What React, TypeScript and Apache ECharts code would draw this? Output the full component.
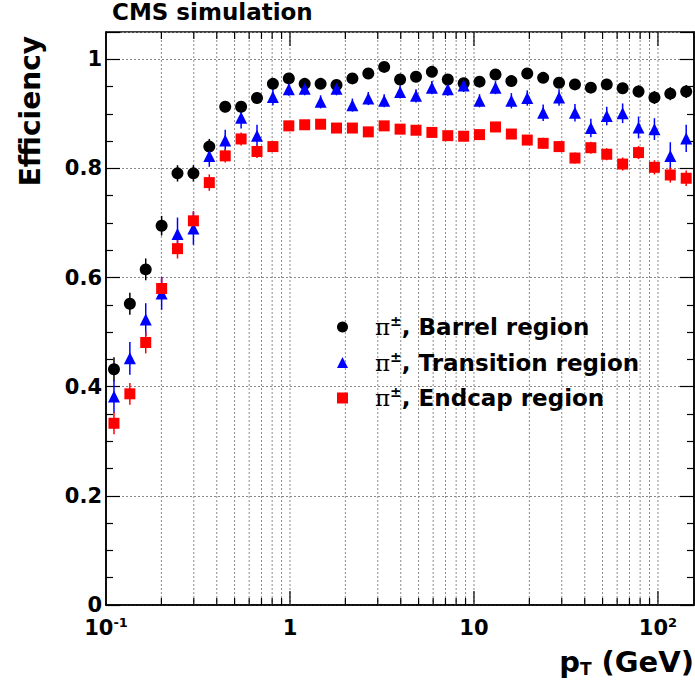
import React, { useEffect, useRef } from "react";
import * as echarts from "echarts";

// bin centres in pT (GeV)
const PT = [
  0.1105, 0.1348, 0.1644, 0.2006, 0.2447, 0.2986, 0.3643, 0.4446, 0.5424, 0.6618,
  0.8075, 0.9854, 1.202, 1.467, 1.79, 2.184, 2.665, 3.251, 3.967, 4.841,
  5.906, 7.206, 8.79, 10.72, 13.09, 15.97, 19.48, 23.77, 29.0, 35.39,
  43.18, 52.68, 64.27, 78.42, 95.68, 116.7, 142.4,
];

const BARREL = [
  0.432, 0.552, 0.615, 0.695, 0.791, 0.791, 0.84, 0.913, 0.913, 0.929,
  0.955, 0.965, 0.955, 0.955, 0.953, 0.965, 0.974, 0.986, 0.963, 0.968,
  0.977, 0.963, 0.956, 0.959, 0.972, 0.96, 0.974, 0.966, 0.957, 0.954,
  0.948, 0.954, 0.947, 0.941, 0.93, 0.937, 0.941,
];
const BARREL_ERR = [
  0.022, 0.02, 0.02, 0.018, 0.015, 0.015, 0.014, 0.01, 0.01, 0.01,
  0.008, 0.008, 0.007, 0.007, 0.007, 0.007, 0.007, 0.007, 0.007, 0.007,
  0.007, 0.007, 0.007, 0.007, 0.007, 0.008, 0.008, 0.008, 0.009, 0.009,
  0.01, 0.01, 0.01, 0.011, 0.012, 0.012, 0.012,
];

const TRANSITION = [
  0.382, 0.452, 0.523, 0.571, 0.68, 0.69, 0.823, 0.851, 0.893, 0.86,
  0.931, 0.945, 0.946, 0.922, 0.946, 0.916, 0.928, 0.924, 0.94, 0.933,
  0.948, 0.945, 0.952, 0.924, 0.948, 0.924, 0.929, 0.902, 0.93, 0.902,
  0.874, 0.896, 0.901, 0.875, 0.872, 0.823, 0.855,
];
const TRANSITION_ERR = [
  0.03, 0.03, 0.03, 0.03, 0.03, 0.03, 0.02, 0.02, 0.02, 0.02,
  0.015, 0.012, 0.012, 0.012, 0.012, 0.012, 0.012, 0.012, 0.012, 0.012,
  0.012, 0.012, 0.012, 0.012, 0.012, 0.014, 0.014, 0.015, 0.015, 0.016,
  0.017, 0.017, 0.018, 0.02, 0.02, 0.025, 0.025,
];

const ENDCAP = [
  0.333, 0.387, 0.481, 0.58, 0.653, 0.704, 0.774, 0.823, 0.854, 0.831,
  0.84, 0.878, 0.88, 0.881, 0.874, 0.874, 0.867, 0.878, 0.872, 0.87,
  0.866, 0.86, 0.859, 0.862, 0.876, 0.863, 0.852, 0.846, 0.84, 0.819,
  0.838, 0.826, 0.808, 0.829, 0.802, 0.788, 0.782,
];
const ENDCAP_ERR = [
  0.02, 0.02, 0.02, 0.02, 0.018, 0.018, 0.015, 0.012, 0.012, 0.012,
  0.01, 0.008, 0.008, 0.008, 0.008, 0.008, 0.008, 0.008, 0.008, 0.008,
  0.008, 0.008, 0.008, 0.008, 0.008, 0.009, 0.009, 0.01, 0.01, 0.01,
  0.011, 0.011, 0.012, 0.012, 0.013, 0.014, 0.014,
];

// vertical grid lines / ticks of the log axis
const X_GRID = [
  0.2, 0.3, 0.4, 0.5, 0.6, 0.7, 0.8, 0.9,
  1, 2, 3, 4, 5, 6, 7, 8, 9,
  10, 20, 30, 40, 50, 60, 70, 80, 90, 100,
];
const X_MAJOR = [1, 10, 100];
const X_LABELS: Record<string, string> = {
  "0.1": "{a|10}{s|-1}",
  "1": "{a|1}",
  "10": "{a|10}",
  "100": "{a|10}{s|2}",
};

const NAMES = ["π±, Barrel region", "π±, Transition region", "π±, Endcap region"];
const COLORS = ["#000000", "#0000ff", "#ff0000"];
const SYMBOLS = ["circle", "triangle", "rect"];

const FONT = "DejaVu Sans";

export default function App() {
  const ref = useRef<HTMLDivElement>(null);

  useEffect(() => {
    if (!ref.current) return;
    const chart = echarts.init(ref.current, null, { renderer: "svg" });

    const values = [BARREL, TRANSITION, ENDCAP];
    const errs = [BARREL_ERR, TRANSITION_ERR, ENDCAP_ERR];

    const errSeries = values.map((vals, s) => ({
      type: "custom",
      name: NAMES[s] + " err",
      silent: true,
      z: 2,
      encode: { x: 0, y: 1 },
      data: PT.map((x, i) => [x, vals[i], errs[s][i]]),
      renderItem: (_params: any, api: any) => {
        const x = api.value(0);
        const y = api.value(1);
        const e = api.value(2);
        const p1 = api.coord([x, y - e]);
        const p2 = api.coord([x, y + e]);
        return {
          type: "line",
          shape: { x1: p1[0], y1: p1[1], x2: p2[0], y2: p2[1] },
          style: { stroke: COLORS[s], lineWidth: 1.5 },
        };
      },
    }));

    const scatterSeries = values.map((vals, s) => ({
      type: "scatter",
      name: NAMES[s],
      z: 3,
      symbol: SYMBOLS[s],
      symbolSize: s === 2 ? 11 : 12,
      itemStyle: { color: COLORS[s], opacity: 1 },
      data: PT.map((x, i) => [x, vals[i]]),
    }));

    const gridSeries = {
      type: "custom",
      name: "xgrid",
      silent: true,
      z: 1,
      encode: { x: 0, y: 1 },
      data: X_GRID.map((v) => [v, 0.5]),
      renderItem: (params: any, api: any) => {
        const cs = params.coordSys;
        const v = api.value(0);
        const x = api.coord([v, 0.5])[0];
        const L = X_MAJOR.includes(v) ? 14 : 7;
        const top = cs.y;
        const bottom = cs.y + cs.height;
        return {
          type: "group",
          children: [
            {
              type: "line",
              shape: { x1: x, y1: top, x2: x, y2: bottom },
              style: { stroke: "#8a8a8a", lineWidth: 1, lineDash: [2, 2] },
            },
            {
              type: "line",
              shape: { x1: x, y1: bottom, x2: x, y2: bottom - L },
              style: { stroke: "#000", lineWidth: 1.2 },
            },
            {
              type: "line",
              shape: { x1: x, y1: top, x2: x, y2: top + L },
              style: { stroke: "#000", lineWidth: 1.2 },
            },
          ],
        };
      },
    };

    const yCommon = {
      type: "value",
      min: 0,
      max: 1.05,
      interval: 0.2,
      axisLine: { show: true, lineStyle: { color: "#000", width: 1.5 } },
      axisTick: { show: true, inside: true, length: 14, lineStyle: { color: "#000", width: 1.2 } },
      minorTick: { show: true, splitNumber: 4, length: 7, lineStyle: { color: "#000", width: 1.2 } },
    };

    chart.setOption({
      animation: false,
      backgroundColor: "#fff",
      title: {
        text: "CMS simulation",
        left: 112,
        top: 0,
        padding: 0,
        textStyle: { fontFamily: FONT, fontWeight: "bold", fontSize: 23, color: "#000" },
      },
      legend: {
        orient: "vertical",
        left: 337,
        top: 314,
        itemWidth: 11,
        itemHeight: 11,
        itemGap: 11,
        padding: 0,
        data: NAMES.map((n, i) => ({ name: n, icon: SYMBOLS[i] })),
        formatter: (name: string) => `{pi|π}{sup|±}{t|${name.slice(2)}}`,
        textStyle: {
          color: "#000",
          rich: {
            pi: {
              fontFamily: "DejaVu Serif",
              fontSize: 23,
              color: "#000",
              padding: [0, 0, 0, 22],
              lineHeight: 26,
            },
            sup: {
              fontFamily: FONT,
              fontWeight: "bold",
              fontSize: 14,
              color: "#000",
              verticalAlign: "top",
              lineHeight: 26,
            },
            t: {
              fontFamily: FONT,
              fontWeight: "bold",
              fontSize: 23,
              color: "#000",
              lineHeight: 26,
            },
          },
        },
      },
      grid: {
        left: 106,
        right: 1,
        top: 32,
        bottom: 88,
        show: true,
        borderColor: "#000",
        borderWidth: 1.5,
        backgroundColor: "transparent",
      },
      xAxis: [
        {
          type: "log",
          logBase: 10,
          min: 0.1,
          max: 157,
          axisLine: { show: true, onZero: false, lineStyle: { color: "#000", width: 1.5 } },
          axisTick: { show: false },
          splitLine: { show: false },
          axisLabel: {
            margin: 11,
            showMaxLabel: false,
            formatter: (v: number) => X_LABELS[String(v)] ?? "",
            rich: {
              a: { fontFamily: FONT, fontWeight: "bold", fontSize: 21, color: "#000", lineHeight: 24 },
              s: { fontFamily: FONT, fontWeight: "bold", fontSize: 13, color: "#000", verticalAlign: "top", lineHeight: 24 },
            },
          },
        },
      ],
      yAxis: [
        {
          ...yCommon,
          position: "left",
          splitLine: { show: true, lineStyle: { color: "#8a8a8a", type: [2, 2], width: 1 } },
          axisLabel: {
            margin: 4,
            showMaxLabel: false,
            fontFamily: FONT,
            fontWeight: "bold",
            fontSize: 21,
            color: "#000",
            formatter: (v: number) => (Math.abs(v - 1) < 1e-9 ? "1" : v === 0 ? "0" : String(Math.round(v * 10) / 10)),
          },
        },
        {
          ...yCommon,
          position: "right",
          splitLine: { show: false },
          axisLabel: { show: false },
        },
      ],
      graphic: [
        {
          type: "text",
          x: 30,
          y: 36,
          rotation: Math.PI / 2,
          style: {
            text: "Efficiency",
            align: "right",
            verticalAlign: "middle",
            fontFamily: FONT,
            fontWeight: "bold",
            fontSize: 28,
            fill: "#000",
          },
        },
        {
          type: "text",
          right: 1,
          top: 647,
          style: {
            text: "{p|p}{sub|T}{p| (GeV)}",
            rich: {
              p: { fontFamily: FONT, fontWeight: "bold", fontSize: 29, fill: "#000", lineHeight: 32 },
              sub: { fontFamily: FONT, fontWeight: "bold", fontSize: 17, fill: "#000", verticalAlign: "bottom", lineHeight: 32 },
            },
          },
        },
      ],
      series: [gridSeries, ...errSeries, ...scatterSeries],
    });

    return () => chart.dispose();
  }, []);

  return (
    <div
      ref={ref}
      style={{ position: "absolute", left: 0, top: 0, width: 695, height: 693 }}
    />
  );
}
